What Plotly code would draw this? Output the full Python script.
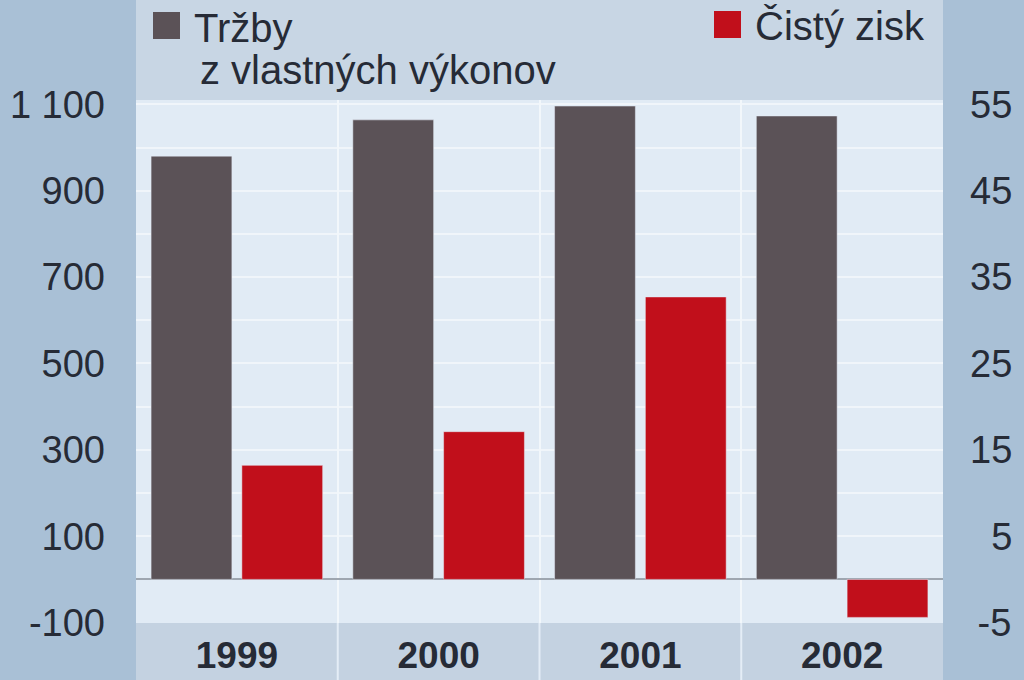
import plotly.graph_objects as go

years = ["1999", "2000", "2001", "2002"]
trzby = [980, 1064, 1096, 1073]          # left axis
cisty_zisk = [13.2, 17.1, 32.7, -4.4]    # right axis
left_ticks = [-100, 100, 300, 500, 700, 900, 1100]
right_ticks = [-5, 5, 15, 25, 35, 45, 55]
legend_1 = ["Tržby", "z vlastných výkonov"]
legend_2 = "Čistý zisk"

W, H = 1024, 680
L, R, T, B = 136, 943, 100, 623
pw, ph = R - L, B - T

def px(x):
    return (x - L) / pw

def py(y):
    return (B - y) / ph

FONT = "Liberation Sans, Arial, sans-serif"
TXT = "#262b36"
GRAY = "#5b5257"
RED = "#c10f1b"

def fmt_left(v):
    s = f"{abs(v):,d}".replace(",", " ")
    return ("-" if v < 0 else "") + s

def pad_right(v):
    s = str(v)
    if v < 0:
        return "\u2009" + s
    if len(s) == 1:
        return "\u2007" + s
    return s

fig = go.Figure()
fig.add_trace(go.Bar(x=years, y=trzby, marker_color=GRAY, offsetgroup="a",
                     yaxis="y", name=" ".join(legend_1), showlegend=False))
fig.add_trace(go.Bar(x=years, y=cisty_zisk, marker_color=RED, offsetgroup="b",
                     yaxis="y2", name=legend_2, showlegend=False))

shapes = [
    dict(type="rect", xref="paper", yref="paper", x0=0, x1=1, y0=1, y1=py(0),
         fillcolor="#c8d6e4", line_width=0, layer="below"),
    dict(type="rect", xref="paper", yref="paper", x0=0, x1=1, y0=py(H), y1=0,
         fillcolor="#c4d2e1", line_width=0, layer="below"),
]
for i in range(1, len(years)):
    shapes.append(dict(type="line", xref="x", yref="paper", x0=i - 0.5, x1=i - 0.5,
                       y0=py(H), y1=0, line=dict(color="#e4edf6", width=2)))
shapes.append(dict(type="rect", xref="paper", yref="paper", x0=px(153), x1=px(180),
                   y0=py(39), y1=py(12), fillcolor=GRAY, line_width=0))
shapes.append(dict(type="rect", xref="paper", yref="paper", x0=px(714), x1=px(741),
                   y0=py(38), y1=py(11), fillcolor=RED, line_width=0))

annotations = [
    dict(text=legend_1[0], xref="paper", yref="paper", x=px(192), y=py(28),
         xanchor="left", yanchor="middle", showarrow=False,
         font=dict(family=FONT, size=40, color=TXT)),
    dict(text=legend_1[1], xref="paper", yref="paper", x=px(198), y=py(70),
         xanchor="left", yanchor="middle", showarrow=False,
         font=dict(family=FONT, size=40, color=TXT)),
    dict(text=legend_2, xref="paper", yref="paper", x=px(753), y=py(26),
         xanchor="left", yanchor="middle", showarrow=False,
         font=dict(family=FONT, size=40, color=TXT)),
]

fig.update_layout(
    width=W, height=H,
    margin=dict(l=L, r=W - R, t=T, b=H - B, pad=0, autoexpand=False),
    paper_bgcolor="#a9c0d6",
    plot_bgcolor="#e1ebf5",
    barmode="group",
    bargap=0.1,
    bargroupgap=0.11,
    showlegend=False,
    shapes=shapes,
    annotations=annotations,
    xaxis=dict(type="category", showgrid=True, tickson="boundaries",
               gridcolor="#f2f7fb", gridwidth=2, ticks="", showline=False,
               tickfont=dict(family=FONT, size=37, color=TXT, weight="bold"),
               ticklabelstandoff=7, automargin=False),
    yaxis=dict(range=[-101, 1110], tickmode="array", tickvals=left_ticks,
               ticktext=[fmt_left(v) for v in left_ticks],
               showgrid=False, zeroline=True,
               zerolinecolor="#9ea6b0", zerolinewidth=2,
               minor=dict(dtick=100, tick0=0, showgrid=True, gridcolor="#f0f5fa", gridwidth=2),
               tickfont=dict(family=FONT, size=38, color=TXT),
               ticklabelstandoff=30, showline=False, ticks="", automargin=False),
    yaxis2=dict(range=[-101 / 20, 1110 / 20], overlaying="y", side="right",
                tickmode="array", tickvals=right_ticks,
                ticktext=[pad_right(v) for v in right_ticks],
                showgrid=False, zeroline=False, showline=False, ticks="",
                tickfont=dict(family=FONT, size=38, color=TXT),
                ticklabelstandoff=26, automargin=False),
)

fig.write_html("out.html",
               config={"displayModeBar": False},
               post_script="document.body.style.margin='0px';"
                           "document.body.style.background='#a9c0d6';")
